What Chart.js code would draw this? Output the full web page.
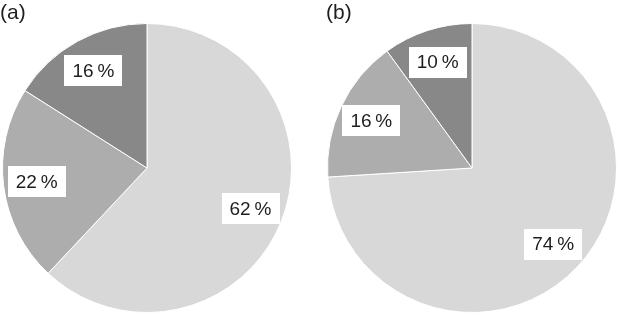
<!DOCTYPE html>
<html>
<head>
<meta charset="UTF-8">
<script src="https://cdn.jsdelivr.net/npm/chart.js"></script>
<style>
    html, body { margin: 0; padding: 0; background: #ffffff; }
    .wrap { position: relative; width: 618px; height: 316px; overflow: hidden; }
    .panel { position: absolute; top: 0; width: 309px; height: 316px; }
    .tag {
        position: absolute;
        top: 0px;
        font-family: 'Liberation Sans', Arial, sans-serif;
        font-size: 21px;
        color: #1e1e1e;
    }
</style>
</head>
<body>
<div class="wrap">
    <div class="panel" style="left:0"><canvas id="pieA" width="309" height="316"></canvas></div>
    <div class="panel" style="left:309px"><canvas id="pieB" width="309" height="316"></canvas></div>
    <div class="tag" style="left:0">(a)</div>
    <div class="tag" style="left:326px">(b)</div>
</div>

<script>
// shares, clockwise from 12 o'clock
const categories = ['Group 1', 'Group 2', 'Group 3'];
const valuesA = [62, 22, 16];
const valuesB = [74, 16, 10];
const sliceColors = ['#d8d8d8', '#adadad', '#888888'];

// white boxed percentage labels, placed along each slice's middle angle
const boxLabels = {
    id: 'boxLabels',
    afterDatasetsDraw(chart) {
        const ctx = chart.ctx;
        const values = chart.data.datasets[0].data;
        ctx.save();
        ctx.font = '19px "Liberation Sans", Arial, sans-serif';
        ctx.textBaseline = 'middle';
        ctx.textAlign = 'center';
        chart.getDatasetMeta(0).data.forEach((arc, i) => {
            const p = arc.getProps(['x', 'y', 'startAngle', 'endAngle', 'outerRadius'], true);
            const mid = (p.startAngle + p.endAngle) / 2;
            const r = p.outerRadius * 0.77;
            const cx = p.x + Math.cos(mid) * r;
            const cy = p.y + Math.sin(mid) * r;
            const text = values[i] + '\u2009%';
            const w = ctx.measureText(text).width + 16;
            const h = 31;
            ctx.fillStyle = '#ffffff';
            ctx.fillRect(Math.round(cx - w / 2), Math.round(cy - h / 2), Math.round(w), h);
            ctx.fillStyle = '#1e1e1e';
            ctx.fillText(text, cx, cy + 1);
        });
        ctx.restore();
    }
};

function makePie(id, values, padding) {
    return new Chart(document.getElementById(id), {
        type: 'pie',
        data: {
            labels: categories,
            datasets: [{
                data: values,
                backgroundColor: sliceColors,
                borderColor: '#ffffff',
                borderWidth: 1
            }]
        },
        options: {
            animation: false,
            responsive: false,
            layout: { padding: padding },
            plugins: {
                legend: { display: false },
                tooltip: { enabled: false },
                title: { display: false }
            }
        },
        plugins: [boxLabels]
    });
}

makePie('pieA', valuesA, { left: 2, right: 17, top: 23, bottom: 3 });
makePie('pieB', valuesB, { left: 18, right: 1, top: 23, bottom: 3 });
</script>
</body>
</html>
